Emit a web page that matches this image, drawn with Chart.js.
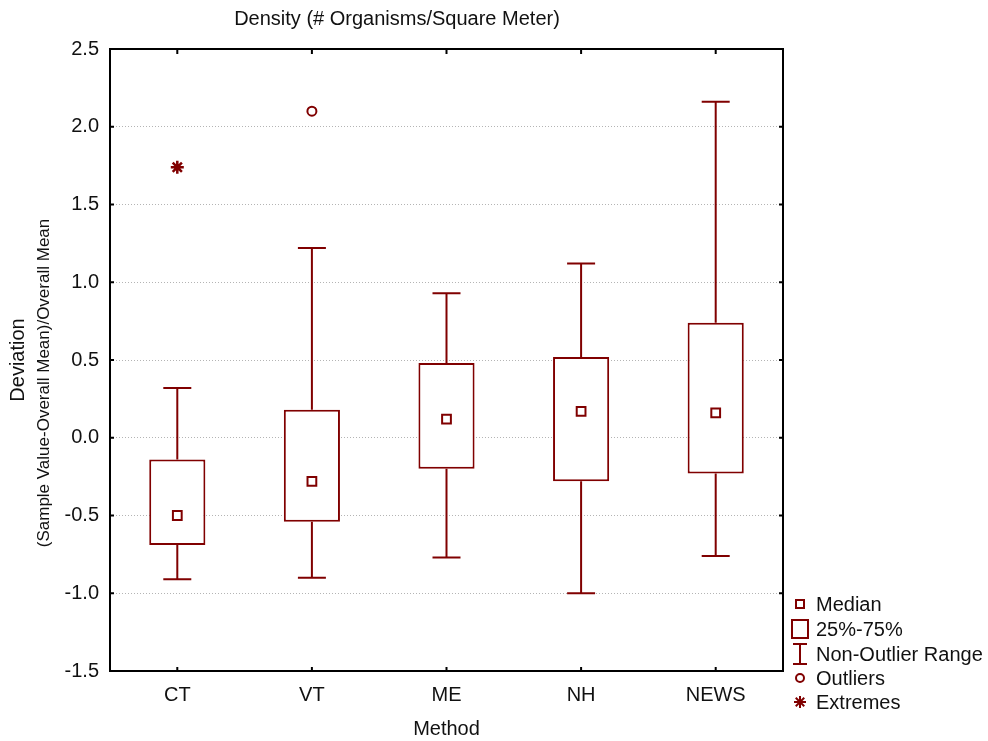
<!DOCTYPE html>
<html>
<head>
<meta charset="utf-8">
<script src="https://cdn.jsdelivr.net/npm/chart.js@4.4.1/dist/chart.umd.min.js"></script>
<style>
  html, body { margin: 0; padding: 0; background: #fff; }
  canvas { display: block; }
</style>
</head>
<body>
<canvas id="chart" width="988" height="741"></canvas>
<script>
// values
const methods = ['CT', 'VT', 'ME', 'NH', 'NEWS'];
const whiskerLow = [-0.91, -0.90, -0.77, -1.00, -0.76];
const q1 = [-0.69, -0.54, -0.20, -0.28, -0.23];
const medians = [-0.50, -0.28, 0.12, 0.17, 0.16];
const q3 = [-0.14, 0.18, 0.48, 0.52, 0.74];
const whiskerHigh = [0.32, 1.22, 0.93, 1.12, 2.16];
const outliers = [null, 2.10, null, null, null];
const extremes = [1.74, null, null, null, null];
const yTicks = [-1.5, -1.0, -0.5, 0.0, 0.5, 1.0, 1.5, 2.0, 2.5];

const RED = '#800000';
const FONT = 'Arial, "Liberation Sans", sans-serif';

// whiskers (non-outlier range) drawn through the chart scales
const whiskerPlugin = {
    id: 'whiskers',
    beforeDatasetsDraw(chart) {
        const { ctx, scales: { x, y } } = chart;
        ctx.save();
        ctx.strokeStyle = RED;
        ctx.lineWidth = 2;
        methods.forEach((m, i) => {
            const cx = x.getPixelForValue(i);
            const half = 14;
            ctx.beginPath();
            ctx.moveTo(cx, y.getPixelForValue(whiskerLow[i]));
            ctx.lineTo(cx, y.getPixelForValue(q1[i]));
            ctx.moveTo(cx, y.getPixelForValue(q3[i]));
            ctx.lineTo(cx, y.getPixelForValue(whiskerHigh[i]));
            ctx.moveTo(cx - half, y.getPixelForValue(whiskerLow[i]));
            ctx.lineTo(cx + half, y.getPixelForValue(whiskerLow[i]));
            ctx.moveTo(cx - half, y.getPixelForValue(whiskerHigh[i]));
            ctx.lineTo(cx + half, y.getPixelForValue(whiskerHigh[i]));
            ctx.stroke();
        });
        ctx.restore();
    }
};

// frame, inner tick marks, titles and legend
const decorPlugin = {
    id: 'decor',
    afterDraw(chart) {
        const { ctx, chartArea: a, scales: { x, y } } = chart;
        ctx.save();
        ctx.strokeStyle = '#000';
        ctx.lineWidth = 2;
        ctx.strokeRect(a.left, a.top, a.right - a.left, a.bottom - a.top);
        ctx.beginPath();
        methods.forEach((m, i) => {
            const px = x.getPixelForValue(i);
            ctx.moveTo(px, a.top); ctx.lineTo(px, a.top + 5);
            ctx.moveTo(px, a.bottom); ctx.lineTo(px, a.bottom - 4);
        });
        yTicks.forEach(v => {
            const py = y.getPixelForValue(v);
            ctx.moveTo(a.left, py); ctx.lineTo(a.left + 4, py);
            ctx.moveTo(a.right, py); ctx.lineTo(a.right - 4, py);
        });
        ctx.stroke();

        ctx.fillStyle = '#111';
        ctx.textAlign = 'center';
        ctx.textBaseline = 'middle';
        ctx.font = '20px ' + FONT;
        ctx.fillText('Density (# Organisms/Square Meter)', 397, 19);

        ctx.save();
        ctx.translate(18, 360);
        ctx.rotate(-Math.PI / 2);
        ctx.fillText('Deviation', 0, 0);
        ctx.restore();
        ctx.save();
        ctx.translate(44, 383);
        ctx.rotate(-Math.PI / 2);
        ctx.font = '17px ' + FONT;
        ctx.fillText('(Sample Value-Overall Mean)/Overall Mean', 0, 0);
        ctx.restore();

        // legend
        const lx = 800, tx = 816;
        const rows = [604, 629, 654, 678, 702];
        ctx.strokeStyle = RED;
        ctx.fillStyle = RED;
        ctx.lineWidth = 2;
        ctx.strokeRect(lx - 4, rows[0] - 4, 8, 8);
        ctx.strokeRect(lx - 8, rows[1] - 9, 16, 18);
        ctx.beginPath();
        ctx.moveTo(lx, rows[2] - 10); ctx.lineTo(lx, rows[2] + 10);
        ctx.moveTo(lx - 7, rows[2] - 10); ctx.lineTo(lx + 7, rows[2] - 10);
        ctx.moveTo(lx - 7, rows[2] + 10); ctx.lineTo(lx + 7, rows[2] + 10);
        ctx.stroke();
        ctx.beginPath();
        ctx.arc(lx, rows[3], 4, 0, Math.PI * 2);
        ctx.stroke();
        ctx.beginPath();
        for (let k = 0; k < 4; k++) {
            const ang = k * Math.PI / 4;
            ctx.moveTo(lx - 6 * Math.cos(ang), rows[4] - 6 * Math.sin(ang));
            ctx.lineTo(lx + 6 * Math.cos(ang), rows[4] + 6 * Math.sin(ang));
        }
        ctx.stroke();

        ctx.fillStyle = '#111';
        ctx.textAlign = 'left';
        ctx.font = '20px ' + FONT;
        ['Median', '25%-75%', 'Non-Outlier Range', 'Outliers', 'Extremes'].forEach((t, i) => {
            ctx.fillText(t, tx, rows[i] + 1);
        });
        ctx.restore();
    }
};

new Chart(document.getElementById('chart'), {
    data: {
        labels: methods,
        datasets: [
            {
                type: 'bar',
                order: 2,
                data: methods.map((m, i) => [q1[i], q3[i]]),
                backgroundColor: '#fff',
                borderColor: RED,
                borderWidth: 2,
                borderSkipped: false,
                barPercentage: 0.417,
                categoryPercentage: 1
            },
            {
                type: 'line',
                order: 1,
                data: medians,
                showLine: false,
                pointStyle: 'rect',
                pointRadius: 6.2,
                pointBorderWidth: 2,
                pointBackgroundColor: '#fff',
                pointBorderColor: RED
            },
            {
                type: 'line',
                order: 1,
                data: outliers,
                showLine: false,
                pointStyle: 'circle',
                pointRadius: 4.5,
                pointBorderWidth: 2,
                pointBackgroundColor: '#fff',
                pointBorderColor: RED
            },
            {
                type: 'line',
                order: 1,
                data: extremes,
                showLine: false,
                pointStyle: 'star',
                pointRadius: 6.5,
                pointBorderWidth: 2.5,
                pointBorderColor: RED
            }
        ]
    },
    options: {
        responsive: false,
        animation: false,
        layout: { padding: { top: 49, right: 205, left: 0, bottom: 0 } },
        plugins: { legend: { display: false }, tooltip: { enabled: false } },
        scales: {
            x: {
                grid: { display: false, drawTicks: false },
                border: { display: false },
                ticks: { color: '#111', font: { family: FONT, size: 20 }, padding: 12 },
                title: { display: true, text: 'Method', color: '#111', font: { family: FONT, size: 20 }, padding: { top: 8, bottom: 0 } },
                afterFit: s => { s.height = 70; }
            },
            y: {
                min: -1.5,
                max: 2.5,
                afterBuildTicks: s => { s.ticks = yTicks.map(v => ({ value: v })); },
                grid: { color: '#b4b4b4', lineWidth: 1, drawTicks: false },
                border: { display: false, dash: [1, 2] },
                ticks: {
                    color: '#111',
                    font: { family: FONT, size: 20 },
                    padding: 11,
                    callback: v => v.toFixed(1)
                },
                afterFit: s => { s.width = 110; }
            }
        }
    },
    plugins: [whiskerPlugin, decorPlugin]
});
</script>
</body>
</html>
